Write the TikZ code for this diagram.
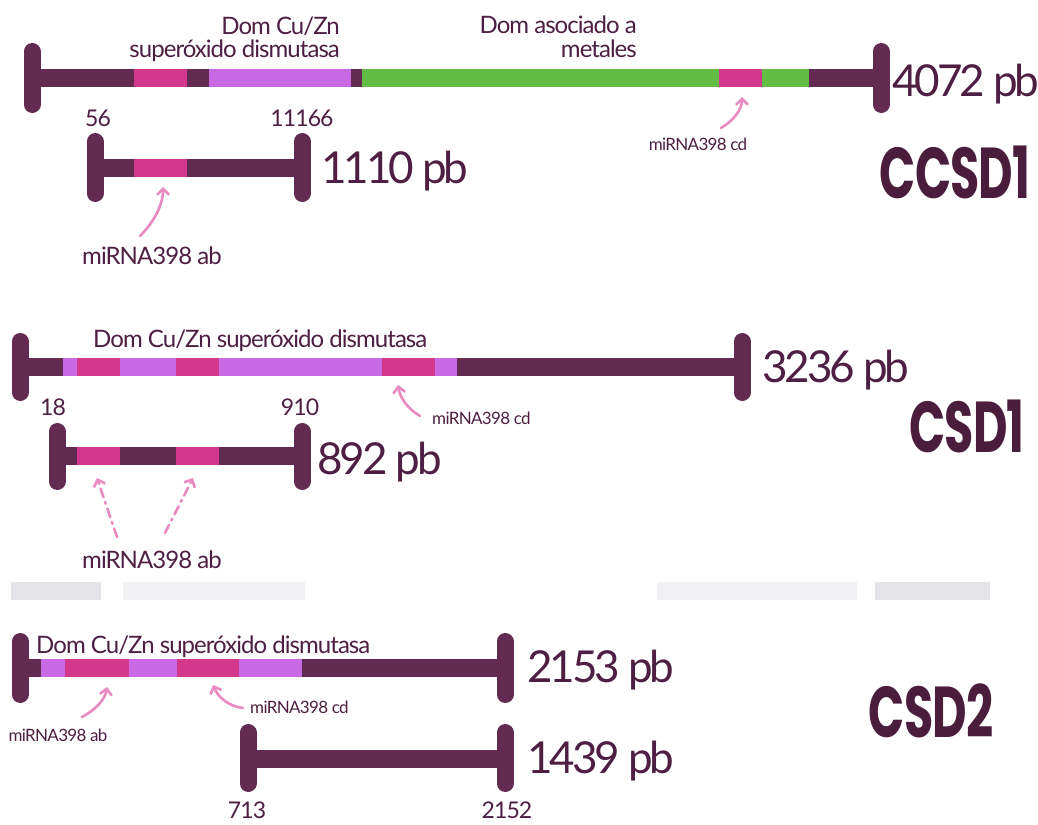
\documentclass[tikz,border=0pt]{standalone}
\usepackage{fontspec}
\usepackage{graphicx}
\setmainfont{Lato}[LetterSpace=-4]
\newfontfamily\titlefont{Poppins}[LetterSpace=-2]
\usetikzlibrary{arrows.meta}

\definecolor{barc}{HTML}{632A52}
\definecolor{mag}{HTML}{D4388D}
\definecolor{lil}{HTML}{C969E3}
\definecolor{grn}{HTML}{62BD45}
\definecolor{pinkarr}{HTML}{E98BC0}
\definecolor{txt}{HTML}{4E1F42}
\definecolor{ttl}{HTML}{4A1D3C}
\definecolor{sepa}{HTML}{E4E4E8}
\definecolor{sepb}{HTML}{F1F1F4}

% one coloured stretch of a gene bar, centred on height #4
\newcommand\segm[4]{\fill[#1] (#2,#4-9) rectangle (#3,#4+9);}
% rounded end cap of a bar
\newcommand\barcap[3]{\draw[capline] (#1,#2+8.5) -- (#1,#3-8.5);}

\tikzset{
  capline/.style={draw=barc, line width=17pt, line cap=round},
  lbl/.style={text=txt, inner sep=0pt},
  domlbl/.style={lbl, font=\fontsize{24}{26}\selectfont},
  posnum/.style={lbl, font=\fontsize{23}{25}\selectfont},
  lenlbl/.style={lbl, font=\fontsize{44}{48}\selectfont\addfontfeatures{LetterSpace=-7}},
  mirbig/.style={lbl, font=\fontsize{24}{26}\selectfont},
  mirsmall/.style={lbl, font=\fontsize{17}{19}\selectfont},
  genelbl/.style={text=ttl, inner sep=0pt, font=\titlefont\bfseries\fontsize{72}{76}\selectfont},
  mirarrow/.style={draw=pinkarr, line width=2.6pt, line cap=round,
    -{Straight Barb[length=6pt,width=12pt,line width=2.6pt]}},
  dashdotarrow/.style={mirarrow, dash pattern=on 9pt off 5pt on 2pt off 5pt}
}

\begin{document}
\begin{tikzpicture}[x=1pt,y=-1pt]
\fill[white] (0,0) rectangle (1038,824);
\useasboundingbox (0,0) rectangle (1038,824);

% ---------------- CCSD1 ----------------
% full transcript
\segm{barc}{32}{134}{78}
\segm{mag}{134}{187}{78}
\segm{barc}{187}{209}{78}
\segm{lil}{209}{351}{78}
\segm{barc}{351}{362}{78}
\segm{grn}{362}{719}{78}
\segm{mag}{719}{762}{78}
\segm{grn}{762}{809}{78}
\segm{barc}{809}{881}{78}
\barcap{32}{43}{113}
\barcap{881}{43}{113}
\node[domlbl, anchor=base east] (ccdom1) at (340,35) {Dom Cu/Zn};
\node[domlbl, anchor=base east] (ccdom2) at (340,58) {superóxido dismutasa};
\node[domlbl, anchor=base east] (ccmet1) at (637,34) {Dom asociado a};
\node[domlbl, anchor=base east] (ccmet2) at (637,58) {metales};
\node[lenlbl, anchor=base west] (cclen) at (892,97) {4072 pb};
\node[mirsmall, anchor=base] (cccd) at (698,150) {miRNA398 cd};
\coordinate (cccdS) at (721,128);
\coordinate (cccdE) at (742,97);
\draw[mirarrow] (cccdS) .. controls (733,121) and (742,110) .. (cccdE);

% coding region
\node[posnum, anchor=base] (cc56) at (98,127) {56};
\node[posnum, anchor=base] (cc1166) at (302,127) {11166};
\segm{barc}{95}{134}{167.5}
\segm{mag}{134}{187}{167.5}
\segm{barc}{187}{302}{167.5}
\barcap{95}{133}{202}
\barcap{302}{133}{202}
\node[lenlbl, anchor=base west] (cccds) at (321,183) {1110 pb};
\node[mirbig, anchor=base] (ccab) at (152,264) {miRNA398 ab};
\coordinate (ccabS) at (140,236);
\coordinate (ccabE) at (163,187);
\draw[mirarrow] (ccabS) .. controls (153,223) and (163,206) .. (ccabE);
\node[genelbl, anchor=base] (ccname) at (955,198) {\scalebox{0.66}[1]{CCSD1}};

% ---------------- CSD1 ----------------
\segm{barc}{20}{63}{367}
\segm{lil}{63}{77}{367}
\segm{mag}{77}{120}{367}
\segm{lil}{120}{176}{367}
\segm{mag}{176}{219}{367}
\segm{lil}{219}{382}{367}
\segm{mag}{382}{435}{367}
\segm{lil}{435}{457}{367}
\segm{barc}{457}{742}{367}
\barcap{20}{333}{401}
\barcap{742}{333}{401}
\node[domlbl, anchor=base west] (c1dom) at (93,347) {Dom Cu/Zn superóxido dismutasa};
\node[lenlbl, anchor=base west] (c1len) at (762,382) {3236 pb};
\node[mirsmall, anchor=base west] (c1cd) at (432,424) {miRNA398 cd};
\coordinate (c1cdS) at (420,416);
\coordinate (c1cdE) at (398,385);
\draw[mirarrow] (c1cdS) .. controls (408,409) and (400,398) .. (c1cdE);

\node[posnum, anchor=base] (c118) at (53,415) {18};
\node[posnum, anchor=base] (c1910) at (300,415) {910};
\segm{barc}{57}{77}{456}
\segm{mag}{77}{120}{456}
\segm{barc}{120}{176}{456}
\segm{mag}{176}{219}{456}
\segm{barc}{219}{302}{456}
\barcap{57}{423}{490}
\barcap{302}{423}{490}
\node[lenlbl, anchor=base west] (c1cds) at (317,474) {892 pb};
\node[mirbig, anchor=base] (c1ab) at (152,568) {miRNA398 ab};
\coordinate (c1abSa) at (117,537);
\coordinate (c1abEa) at (97,478);
\coordinate (c1abSb) at (165,533);
\coordinate (c1abEb) at (193,478);
\draw[dashdotarrow] (c1abSa) -- (c1abEa);
\draw[dashdotarrow] (c1abSb) -- (c1abEb);
\node[genelbl, anchor=base] (c1name) at (967,452) {\scalebox{0.66}[1]{CSD1}};

% faint band between the panels
\fill[sepa] (11,582) rectangle (101,600);
\fill[sepb] (123,582) rectangle (305,600);
\fill[sepb] (657,582) rectangle (857,600);
\fill[sepa] (875,582) rectangle (990,600);

% ---------------- CSD2 ----------------
\segm{barc}{20}{41}{668}
\segm{lil}{41}{65}{668}
\segm{mag}{65}{129}{668}
\segm{lil}{129}{177}{668}
\segm{mag}{177}{239}{668}
\segm{lil}{239}{302}{668}
\segm{barc}{302}{505}{668}
\barcap{20}{633}{703}
\barcap{505}{633}{703}
\node[domlbl, anchor=base west] (c2dom) at (36,653) {Dom Cu/Zn superóxido dismutasa};
\node[lenlbl, anchor=base west] (c2len) at (527,682) {2153 pb};
\node[mirsmall, anchor=base] (c2ab) at (58,741) {miRNA398 ab};
\coordinate (c2abS) at (82,717);
\coordinate (c2abE) at (107,687);
\draw[mirarrow] (c2abS) .. controls (95,710) and (105,700) .. (c2abE);
\node[mirsmall, anchor=base west] (c2cd) at (250,713) {miRNA398 cd};
\coordinate (c2cdS) at (243,708);
\coordinate (c2cdE) at (213,685);
\draw[mirarrow] (c2cdS) .. controls (228,706) and (218,697) .. (c2cdE);

\segm{barc}{248}{505}{759}
\barcap{248}{724}{792}
\barcap{505}{724}{792}
\node[lenlbl, anchor=base west] (c2cds) at (527,773) {1439 pb};
\node[posnum, anchor=base] (c2713) at (247,818) {713};
\node[posnum, anchor=base] (c22152) at (507,818) {2152};
\node[genelbl, anchor=base] (c2name) at (931,737) {\scalebox{0.66}[1]{CSD2}};
\end{tikzpicture}
\end{document}
